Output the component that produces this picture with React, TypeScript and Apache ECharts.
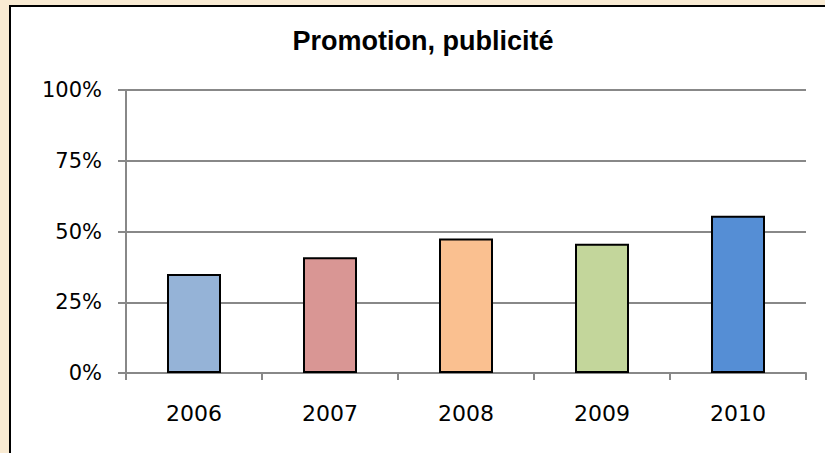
import React, { useEffect, useRef } from "react";
import * as echarts from "echarts";

const title = "Promotion, publicité";
const years = ["2006", "2007", "2008", "2009", "2010"];
const values = [35.0, 40.9, 47.5, 45.7, 55.6];
const barColors = ["#95B3D7", "#D99694", "#FAC090", "#C3D69B", "#558ED5"];
const yTicks = [0, 25, 50, 75, 100];

export default function App() {
  const ref = useRef<HTMLDivElement>(null);
  useEffect(() => {
    if (!ref.current) return;
    const chart = echarts.init(ref.current, null, { renderer: "svg" });
    chart.setOption({
      animation: false,
      backgroundColor: "#F9EBD3",
      graphic: [
        {
          type: "rect",
          z: -10,
          shape: { x: 10, y: 6, width: 900, height: 600 },
          style: { fill: "#FFFFFF", stroke: "#000000", lineWidth: 2 },
        },
        {
          type: "text",
          x: 423,
          y: 41,
          style: {
            text: title,
            fill: "#000000",
            font: "bold 27px 'Liberation Sans', Arial, sans-serif",
            textAlign: "center",
            textVerticalAlign: "middle",
          },
        },
      ],
      grid: { left: 126, top: 90, right: 19, bottom: 80, containLabel: false },
      xAxis: {
        type: "category",
        data: years,
        axisLine: { lineStyle: { color: "#888888", width: 2 } },
        axisTick: { show: true, length: 7, lineStyle: { color: "#888888", width: 2 } },
        axisLabel: {
          color: "#000000",
          fontFamily: "'DejaVu Sans', sans-serif",
          fontSize: 22,
          margin: 29,
        },
      },
      yAxis: {
        type: "value",
        min: 0,
        max: 100,
        interval: 25,
        axisLine: { show: true, lineStyle: { color: "#888888", width: 2 } },
        axisTick: { show: true, length: 8, lineStyle: { color: "#888888", width: 2 } },
        splitLine: { show: true, lineStyle: { color: "#888888", width: 2 } },
        axisLabel: {
          color: "#000000",
          fontFamily: "'DejaVu Sans', sans-serif",
          fontSize: 21,
          margin: 24,
          padding: [6, 0, 0, 0],
          formatter: (v: number) => (yTicks.includes(v) ? v + "%" : ""),
        },
      },
      series: [
        {
          type: "bar",
          barWidth: 54,
          data: values.map((v, i) => ({
            value: v,
            itemStyle: { color: barColors[i], borderColor: "#000000", borderWidth: 2 },
          })),
        },
      ],
    });
    return () => chart.dispose();
  }, []);
  return (
    <div style={{ position: "fixed", left: 0, top: 0, width: 825, height: 453 }}>
      <div ref={ref} style={{ width: 825, height: 453 }} />
    </div>
  );
}
